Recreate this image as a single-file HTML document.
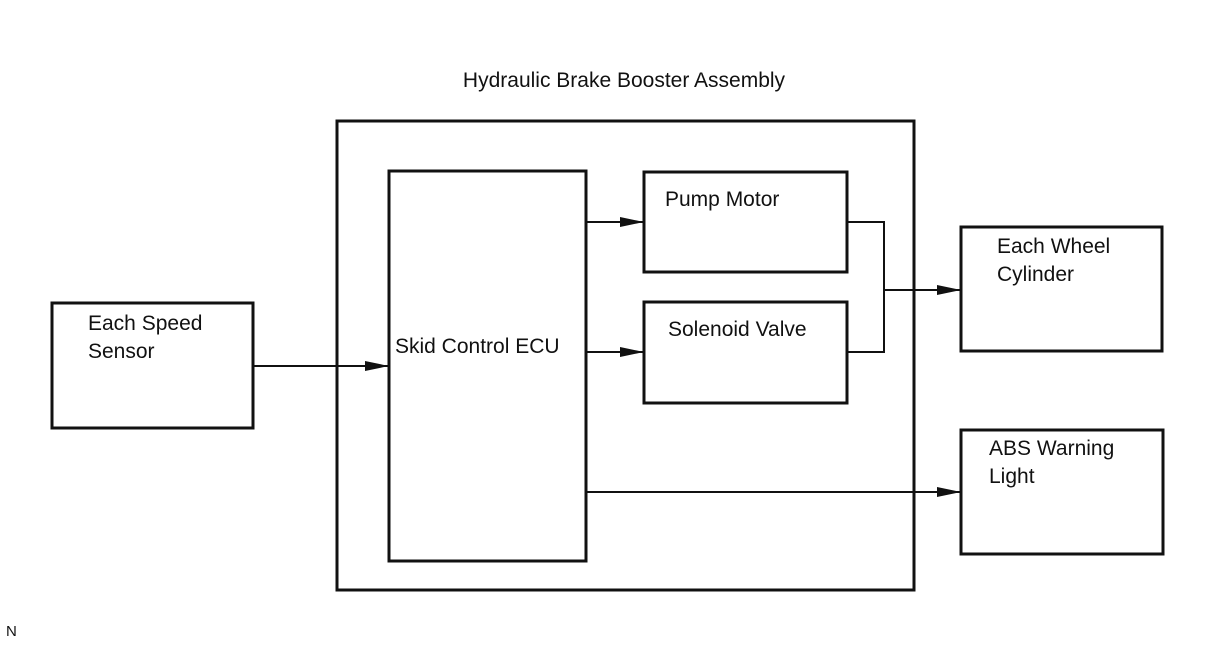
<!DOCTYPE html>
<html><head><style>
html,body{margin:0;padding:0;background:#fff;}
svg text{font-family:"Liberation Sans",Arial,sans-serif;fill:#111;}
</style></head><body>
<svg width="1208" height="644" viewBox="0 0 1208 644" xmlns="http://www.w3.org/2000/svg">
<defs><marker id="a" markerWidth="24" markerHeight="12" refX="24" refY="6" orient="auto" markerUnits="userSpaceOnUse"><path d="M0,1 L24,6 L0,11 Z" fill="#111"/></marker></defs>
<g fill="none" stroke="#111" stroke-width="3">
<rect x="337" y="121" width="577" height="469"/>
<rect x="389" y="171" width="197" height="390"/>
<rect x="644" y="172" width="203" height="100"/>
<rect x="644" y="302" width="203" height="101"/>
<rect x="961" y="227" width="201" height="124"/>
<rect x="961" y="430" width="202" height="124"/>
<rect x="52" y="303" width="201" height="125"/>
</g>
<g fill="none" stroke="#111" stroke-width="2">
<line x1="586" y1="222" x2="644" y2="222" marker-end="url(#a)"/>
<line x1="586" y1="352" x2="644" y2="352" marker-end="url(#a)"/>
<line x1="253" y1="366" x2="389" y2="366" marker-end="url(#a)"/>
<polyline points="847,222 884,222 884,352 847,352"/>
<line x1="884" y1="290" x2="961" y2="290" marker-end="url(#a)"/>
<line x1="586" y1="492" x2="961" y2="492" marker-end="url(#a)"/>
</g>
<g font-size="21">
<text x="624" y="87" text-anchor="middle">Hydraulic Brake Booster Assembly</text>
<text x="395" y="353">Skid Control ECU</text>
<text x="665" y="206">Pump Motor</text>
<text x="668" y="336">Solenoid Valve</text>
<text x="997" y="253">Each Wheel</text>
<text x="997" y="281">Cylinder</text>
<text x="989" y="455">ABS Warning</text>
<text x="989" y="483">Light</text>
<text x="88" y="330">Each Speed</text>
<text x="88" y="358">Sensor</text>
</g>
<text x="6" y="636" font-size="15">N</text>
</svg>
</body></html>
